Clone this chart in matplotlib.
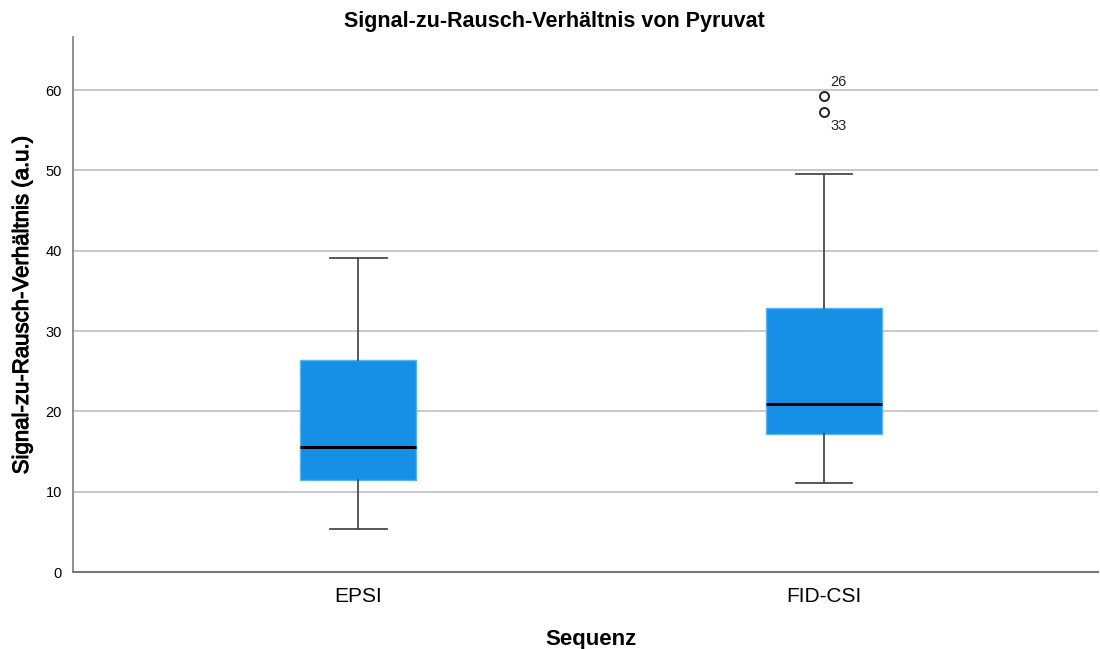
import matplotlib
matplotlib.use("Agg")
import matplotlib.pyplot as plt
import matplotlib.patheffects as pe

plt.rcParams['font.family'] = ['Liberation Sans', 'DejaVu Sans']

# Box statistics per sequence
categories = ["EPSI", "FID-CSI"]
whisker_low = [5.4, 11.1]
q1 = [11.5, 17.2]
median = [15.5, 20.9]
q3 = [26.4, 32.9]
whisker_high = [39.1, 49.5]
outliers = [[], [59.3, 57.3]]
outlier_ids = [[], ["26", "33"]]

yticks = [0, 10, 20, 30, 40, 50, 60]

fig = plt.figure(figsize=(11, 6.49), dpi=100)
ax = fig.add_axes([73 / 1100, 1 - 572 / 649, (1098 - 73) / 1100, (572 - 37) / 649])

stats = []
for i, name in enumerate(categories):
    stats.append(dict(label=name, whislo=whisker_low[i], q1=q1[i], med=median[i],
                      q3=q3[i], whishi=whisker_high[i], fliers=outliers[i]))

positions = list(range(len(categories)))
ax.bxp(stats, positions=positions, widths=0.25, patch_artist=True,
       boxprops=dict(facecolor="#1690e6", edgecolor="#5ab4f0", linewidth=1),
       medianprops=dict(color="black", linewidth=2.2),
       whiskerprops=dict(color="#4a4a4a", linewidth=1.3),
       capprops=dict(color="#4a4a4a", linewidth=1.3),
       capwidths=0.122,
       flierprops=dict(marker="o", markersize=6.5, markerfacecolor="white",
                       markeredgecolor="#222222", markeredgewidth=1.4),
       zorder=3)

# Case numbers next to outliers
for i, (vals, ids) in enumerate(zip(outliers, outlier_ids)):
    for k, (v, lab) in enumerate(zip(vals, ids)):
        dy = 1.7 if k == 0 else -1.8
        ax.text(positions[i] + 0.013, v + dy, lab, fontsize=10.5, ha="left",
                va="center", color="#222222", zorder=4)

ax.set_xlim(-0.612, 1.588)
ax.set_ylim(0, 66.6)
ax.set_yticks(yticks)
ax.set_yticklabels([str(t) for t in yticks], fontsize=10.5)
ax.set_xticks(positions)
ax.set_xticklabels(categories, fontsize=15)
ax.yaxis.grid(True, color="#c8c8c8", linewidth=1.4, zorder=0)
ax.set_axisbelow(True)

for side in ("top", "right"):
    ax.spines[side].set_visible(False)
ax.spines["left"].set_color("#888888")
ax.spines["bottom"].set_color("#777777")
ax.spines["left"].set_linewidth(1.3)
ax.spines["bottom"].set_linewidth(1.5)
ax.tick_params(axis="both", length=0, pad=8)
ax.tick_params(axis="x", pad=11)

fig.text(554 / 1100, 1 - 22 / 649, "Signal-zu-Rausch-Verhältnis von Pyruvat",
         fontsize=15.5, fontweight="bold", ha="center", va="center")
ax.set_xlabel("Sequenz", fontsize=16, fontweight="bold", labelpad=14)
ax.xaxis.set_label_coords(0.505, -0.106)
ylab = ax.set_ylabel("Signal-zu-Rausch-Verhältnis (a.u.)", fontsize=16, labelpad=9)
ylab.set_path_effects([pe.withStroke(linewidth=0.7, foreground="black")])

fig.savefig("out.png", dpi=100, facecolor="white")
